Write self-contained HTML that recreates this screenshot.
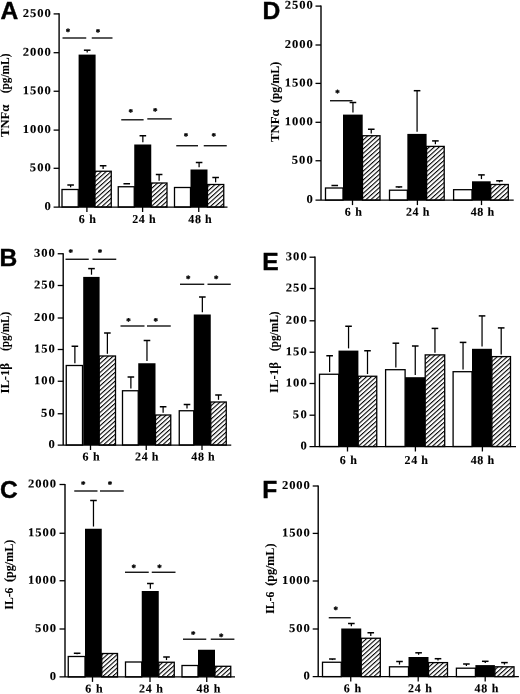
<!DOCTYPE html>
<html lang="en"><head><meta charset="utf-8"><title>Figure</title>
<style>
html,body{margin:0;padding:0;background:#fff;overflow:hidden}
svg{display:block}
.s{font-family:"Liberation Serif", serif;font-weight:bold;font-size:12px;fill:#000;stroke:#000;stroke-width:0.1px}
.st{font-family:"Liberation Serif", serif;font-weight:bold;font-size:9px;fill:#000;stroke:#000;stroke-width:0.35px}
.L{font-family:"Liberation Sans", sans-serif;font-weight:bold;font-size:24.6px;fill:#000;stroke:#000;stroke-width:0.4px}
.b{stroke:#000;stroke-width:1.3}
.a{stroke:#000;stroke-width:1.4;fill:none}
.x{stroke:#000;stroke-width:1.25;fill:none}
.k0{stroke:none}
.t{stroke:#000;stroke-width:1.3;fill:none}
.e{stroke:#000;stroke-width:1.5;fill:none}
.es{stroke:#000;stroke-width:1.25;fill:none}
.g{stroke:#000;stroke-width:1.3;fill:none}
</style></head><body>
<svg width="520" height="694" viewBox="0 0 520 694">
<defs>
<pattern id="h" patternUnits="userSpaceOnUse" width="3.3" height="3.3" patternTransform="rotate(-42)">
<rect width="3.3" height="3.3" fill="#fff"/><rect width="3.3" height="1.08" fill="#000"/>
</pattern>
</defs>
<rect width="520" height="694" fill="#fff"/>
<g>
<path d="M70.62 187.3V185" class="es"/>
<path d="M67.33 185H73.92" class="e"/>
<rect x="62" y="189.5" width="16.25" height="17.5" fill="#fff" class="b"/>
<path d="M87.2 52.4V50.2" class="es"/>
<path d="M83.9 50.2H90.5" class="e"/>
<rect x="78.6" y="54.6" width="17" height="152.4" fill="#000" class="k0"/>
<path d="M103.12 169.05V165.75" class="es"/>
<path d="M99.83 165.75H106.42" class="e"/>
<rect x="95" y="171.25" width="16.25" height="35.75" fill="url(#h)" class="b"/>
<path d="M123.45 183.75H130.05" class="e"/>
<rect x="118.25" y="186.75" width="16" height="20.25" fill="#fff" class="b"/>
<path d="M142.85 142.3V135.75" class="es"/>
<path d="M139.55 135.75H146.15" class="e"/>
<rect x="134.25" y="144.5" width="17" height="62.5" fill="#000" class="k0"/>
<path d="M159.12 180.8V174.5" class="es"/>
<path d="M155.82 174.5H162.43" class="e"/>
<rect x="151.25" y="183" width="15.75" height="24" fill="url(#h)" class="b"/>
<rect x="174.5" y="187.5" width="16" height="19.5" fill="#fff" class="b"/>
<path d="M199.1 167.3V162.5" class="es"/>
<path d="M195.8 162.5H202.4" class="e"/>
<rect x="190.5" y="169.5" width="17" height="37.5" fill="#000" class="k0"/>
<path d="M215.62 182.3V177.5" class="es"/>
<path d="M212.32 177.5H218.93" class="e"/>
<rect x="207.5" y="184.5" width="16.25" height="22.5" fill="url(#h)" class="b"/>
<path d="M59.1 13.3V207" class="a"/>
<path d="M53.6 207H227.5" class="x"/>
<path d="M53.6 13.9H59.1" class="t"/>
<text transform="translate(50.8,16.9) rotate(0.03) scale(1.05,1)" text-anchor="end" textLength="26.67" lengthAdjust="spacing" class="s">2500</text>
<path d="M53.6 52.7H59.1" class="t"/>
<text transform="translate(50.8,55.7) rotate(0.03) scale(1.05,1)" text-anchor="end" textLength="26.67" lengthAdjust="spacing" class="s">2000</text>
<path d="M53.6 91.25H59.1" class="t"/>
<text transform="translate(50.8,94.25) rotate(0.03) scale(1.05,1)" text-anchor="end" textLength="26.67" lengthAdjust="spacing" class="s">1500</text>
<path d="M53.6 130.1H59.1" class="t"/>
<text transform="translate(50.8,133.1) rotate(0.03) scale(1.05,1)" text-anchor="end" textLength="26.67" lengthAdjust="spacing" class="s">1000</text>
<path d="M53.6 168.3H59.1" class="t"/>
<text transform="translate(50.8,171.3) rotate(0.03) scale(1.05,1)" text-anchor="end" textLength="20" lengthAdjust="spacing" class="s">500</text>
<text transform="translate(50.8,210) rotate(0.03) scale(1.05,1)" text-anchor="end" textLength="6.67" lengthAdjust="spacing" class="s">0</text>
<path d="M86.9 207V212" class="t"/>
<text transform="translate(87.4,223) rotate(0.03)" text-anchor="middle" textLength="17.2" lengthAdjust="spacing" class="s">6 h</text>
<path d="M142.6 207V212" class="t"/>
<text transform="translate(143.9,223) rotate(0.03)" text-anchor="middle" textLength="23.4" lengthAdjust="spacing" class="s">24 h</text>
<path d="M198.75 207V212" class="t"/>
<text transform="translate(200,223) rotate(0.03)" text-anchor="middle" textLength="23.4" lengthAdjust="spacing" class="s">48 h</text>
<path d="M62.5 38H86.25" class="g"/>
<path d="M91.75 38H112.5" class="g"/>
<path d="M121.25 119.8H143.6" class="g"/>
<path d="M147.3 118.9H171.8" class="g"/>
<path d="M176.25 145.75H198" class="g"/>
<path d="M203.75 145.75H226.75" class="g"/>
<text transform="translate(68,34.6) rotate(0.03)" text-anchor="middle" class="st">*</text>
<text transform="translate(98,35.1) rotate(0.03)" text-anchor="middle" class="st">*</text>
<text transform="translate(130.7,115.1) rotate(0.03)" text-anchor="middle" class="st">*</text>
<text transform="translate(155.25,114) rotate(0.03)" text-anchor="middle" class="st">*</text>
<text transform="translate(186,139.1) rotate(0.03)" text-anchor="middle" class="st">*</text>
<text transform="translate(213.75,139.1) rotate(0.03)" text-anchor="middle" class="st">*</text>
<text x="0.5" y="18.7" class="L">A</text>
<text transform="translate(9.2,120.9) rotate(-90)" text-anchor="middle" textLength="32.2" lengthAdjust="spacingAndGlyphs" class="s">TNFα</text>
<text transform="translate(9.2,73.45) rotate(-90)" text-anchor="middle" textLength="39.7" lengthAdjust="spacingAndGlyphs" class="s">(pg/mL)</text>
</g>
<g>
<path d="M74.88 363.3V346.25" class="es"/>
<path d="M71.58 346.25H78.17" class="e"/>
<rect x="66.25" y="365.5" width="16.25" height="79.5" fill="#fff" class="b"/>
<path d="M91.5 274.7V268.6" class="es"/>
<path d="M88.2 268.6H94.8" class="e"/>
<rect x="83.2" y="276.9" width="16.4" height="168.1" fill="#000" class="k0"/>
<path d="M107.38 353.8V333" class="es"/>
<path d="M104.08 333H110.67" class="e"/>
<rect x="99.25" y="356" width="16.25" height="89" fill="url(#h)" class="b"/>
<path d="M130.88 388.55V377" class="es"/>
<path d="M127.58 377H134.18" class="e"/>
<rect x="122.5" y="390.75" width="15.75" height="54.25" fill="#fff" class="b"/>
<path d="M146.97 361.05V340.5" class="es"/>
<path d="M143.67 340.5H150.28" class="e"/>
<rect x="138.25" y="363.25" width="17.25" height="81.75" fill="#000" class="k0"/>
<path d="M163.12 412.8V406.75" class="es"/>
<path d="M159.82 406.75H166.43" class="e"/>
<rect x="155.5" y="415" width="15.25" height="30" fill="url(#h)" class="b"/>
<path d="M187 408.55V404.5" class="es"/>
<path d="M183.7 404.5H190.3" class="e"/>
<rect x="179.25" y="410.75" width="14.5" height="34.25" fill="#fff" class="b"/>
<path d="M202.35 312.3V297" class="es"/>
<path d="M199.05 297H205.65" class="e"/>
<rect x="193.75" y="314.5" width="17" height="130.5" fill="#000" class="k0"/>
<path d="M218.5 399.8V395" class="es"/>
<path d="M215.2 395H221.8" class="e"/>
<rect x="210.75" y="402" width="15.5" height="43" fill="url(#h)" class="b"/>
<path d="M63.2 253.15V445" class="a"/>
<path d="M57.7 445H231.25" class="x"/>
<path d="M57.7 253.75H63.2" class="t"/>
<text transform="translate(54.9,256.75) rotate(0.03) scale(1.05,1)" text-anchor="end" textLength="20" lengthAdjust="spacing" class="s">300</text>
<path d="M57.7 285.5H63.2" class="t"/>
<text transform="translate(54.9,288.5) rotate(0.03) scale(1.05,1)" text-anchor="end" textLength="20" lengthAdjust="spacing" class="s">250</text>
<path d="M57.7 318H63.2" class="t"/>
<text transform="translate(54.9,321) rotate(0.03) scale(1.05,1)" text-anchor="end" textLength="20" lengthAdjust="spacing" class="s">200</text>
<path d="M57.7 349.5H63.2" class="t"/>
<text transform="translate(54.9,352.5) rotate(0.03) scale(1.05,1)" text-anchor="end" textLength="20" lengthAdjust="spacing" class="s">150</text>
<path d="M57.7 381.25H63.2" class="t"/>
<text transform="translate(54.9,384.25) rotate(0.03) scale(1.05,1)" text-anchor="end" textLength="20" lengthAdjust="spacing" class="s">100</text>
<path d="M57.7 413.75H63.2" class="t"/>
<text transform="translate(54.9,416.75) rotate(0.03) scale(1.05,1)" text-anchor="end" textLength="13.33" lengthAdjust="spacing" class="s">50</text>
<text transform="translate(54.9,448) rotate(0.03) scale(1.05,1)" text-anchor="end" textLength="6.67" lengthAdjust="spacing" class="s">0</text>
<path d="M90.5 445V450" class="t"/>
<text transform="translate(91,460.5) rotate(0.03)" text-anchor="middle" textLength="17.2" lengthAdjust="spacing" class="s">6 h</text>
<path d="M146.25 445V450" class="t"/>
<text transform="translate(146.75,460.5) rotate(0.03)" text-anchor="middle" textLength="23.4" lengthAdjust="spacing" class="s">24 h</text>
<path d="M202 445V450" class="t"/>
<text transform="translate(203,460.5) rotate(0.03)" text-anchor="middle" textLength="23.4" lengthAdjust="spacing" class="s">48 h</text>
<path d="M65.5 259.25H88.75" class="g"/>
<path d="M92.5 259.25H116.25" class="g"/>
<path d="M120.5 326H144.5" class="g"/>
<path d="M147 326H170.75" class="g"/>
<path d="M180 284.25H204.25" class="g"/>
<path d="M207.5 284.25H230.75" class="g"/>
<text transform="translate(70.75,255.35) rotate(0.03)" text-anchor="middle" class="st">*</text>
<text transform="translate(100,255.35) rotate(0.03)" text-anchor="middle" class="st">*</text>
<text transform="translate(128.5,323.9) rotate(0.03)" text-anchor="middle" class="st">*</text>
<text transform="translate(155.85,323.9) rotate(0.03)" text-anchor="middle" class="st">*</text>
<text transform="translate(188.25,281.6) rotate(0.03)" text-anchor="middle" class="st">*</text>
<text transform="translate(216.25,281.6) rotate(0.03)" text-anchor="middle" class="st">*</text>
<text x="-0.4" y="265.6" class="L">B</text>
<text transform="translate(9.3,378.35) rotate(-90)" text-anchor="middle" textLength="30.3" lengthAdjust="spacingAndGlyphs" class="s">IL-1β</text>
<text transform="translate(9.3,331.3) rotate(-90)" text-anchor="middle" textLength="39.2" lengthAdjust="spacingAndGlyphs" class="s">(pg/mL)</text>
</g>
<g>
<path d="M77.12 654.3V653.25" class="es"/>
<path d="M73.83 653.25H80.42" class="e"/>
<rect x="68.25" y="656.5" width="16.75" height="20.4" fill="#fff" class="b"/>
<path d="M93.47 526.55V500.5" class="es"/>
<path d="M90.17 500.5H96.77" class="e"/>
<rect x="85" y="528.75" width="16.75" height="148.15" fill="#000" class="k0"/>
<rect x="101.75" y="653.5" width="15.75" height="23.4" fill="url(#h)" class="b"/>
<rect x="125.5" y="662" width="16.25" height="14.9" fill="#fff" class="b"/>
<path d="M150.35 588.8V583.5" class="es"/>
<path d="M147.05 583.5H153.65" class="e"/>
<rect x="141.75" y="591" width="17" height="85.9" fill="#000" class="k0"/>
<path d="M166.5 660.05V657" class="es"/>
<path d="M163.2 657H169.8" class="e"/>
<rect x="158.75" y="662.25" width="15.5" height="14.65" fill="url(#h)" class="b"/>
<rect x="182" y="665.5" width="16" height="11.4" fill="#fff" class="b"/>
<rect x="198" y="649.75" width="17" height="27.15" fill="#000" class="k0"/>
<rect x="215" y="666.3" width="15.75" height="10.6" fill="url(#h)" class="b"/>
<path d="M65 483.9V676.9" class="a"/>
<path d="M59.5 676.9H235" class="x"/>
<path d="M59.5 484.5H65" class="t"/>
<text transform="translate(56.1,487.5) rotate(0.03) scale(1.05,1)" text-anchor="end" textLength="26.67" lengthAdjust="spacing" class="s">2000</text>
<path d="M59.5 533.25H65" class="t"/>
<text transform="translate(56.1,536.25) rotate(0.03) scale(1.05,1)" text-anchor="end" textLength="26.67" lengthAdjust="spacing" class="s">1500</text>
<path d="M59.5 580.75H65" class="t"/>
<text transform="translate(56.1,583.75) rotate(0.03) scale(1.05,1)" text-anchor="end" textLength="26.67" lengthAdjust="spacing" class="s">1000</text>
<path d="M59.5 629H65" class="t"/>
<text transform="translate(56.1,632) rotate(0.03) scale(1.05,1)" text-anchor="end" textLength="20" lengthAdjust="spacing" class="s">500</text>
<text transform="translate(56.1,679.9) rotate(0.03) scale(1.05,1)" text-anchor="end" textLength="6.67" lengthAdjust="spacing" class="s">0</text>
<path d="M92.5 676.9V681.9" class="t"/>
<text transform="translate(93.9,692.6) rotate(0.03)" text-anchor="middle" textLength="17.54" lengthAdjust="spacing" class="s">6 h</text>
<path d="M150 676.9V681.9" class="t"/>
<text transform="translate(151,692.6) rotate(0.03)" text-anchor="middle" textLength="23.87" lengthAdjust="spacing" class="s">24 h</text>
<path d="M206.75 676.9V681.9" class="t"/>
<text transform="translate(208.4,692.6) rotate(0.03)" text-anchor="middle" textLength="23.87" lengthAdjust="spacing" class="s">48 h</text>
<path d="M74.25 491H97.5" class="g"/>
<path d="M100 491H123.75" class="g"/>
<path d="M125 572.25H148.75" class="g"/>
<path d="M151.75 572.25H175.5" class="g"/>
<path d="M183 639.2H206.25" class="g"/>
<path d="M210.75 639.2H234.4" class="g"/>
<text transform="translate(83.25,487.35) rotate(0.03)" text-anchor="middle" class="st">*</text>
<text transform="translate(110,487.35) rotate(0.03)" text-anchor="middle" class="st">*</text>
<text transform="translate(133.75,570.6) rotate(0.03)" text-anchor="middle" class="st">*</text>
<text transform="translate(159.5,570.6) rotate(0.03)" text-anchor="middle" class="st">*</text>
<text transform="translate(193.2,637.3) rotate(0.03)" text-anchor="middle" class="st">*</text>
<text transform="translate(221.25,639.4) rotate(0.03)" text-anchor="middle" class="st">*</text>
<text x="0" y="497.9" class="L">C</text>
<text transform="translate(13.25,598.6) rotate(-90)" text-anchor="middle" textLength="21.6" lengthAdjust="spacingAndGlyphs" class="s">IL-6</text>
<text transform="translate(13.25,560.85) rotate(-90)" text-anchor="middle" textLength="42.3" lengthAdjust="spacingAndGlyphs" class="s">(pg/mL)</text>
</g>
<g>
<path d="M331.45 185.5H338.05" class="e"/>
<rect x="325.5" y="188" width="17.5" height="12.1" fill="#fff" class="b"/>
<path d="M352.95 112.4V102.5" class="es"/>
<path d="M349.65 102.5H356.25" class="e"/>
<rect x="343" y="114.6" width="19.7" height="85.5" fill="#000" class="k0"/>
<path d="M371.25 133.55V129.25" class="es"/>
<path d="M367.95 129.25H374.55" class="e"/>
<rect x="362.5" y="135.75" width="17.5" height="64.35" fill="url(#h)" class="b"/>
<path d="M398.93 188V186.9" class="es"/>
<path d="M395.62 186.9H402.23" class="e"/>
<rect x="389.5" y="190.2" width="17.85" height="9.9" fill="#fff" class="b"/>
<path d="M417.08 131.7V90.7" class="es"/>
<path d="M413.78 90.7H420.38" class="e"/>
<rect x="407.35" y="133.9" width="19.25" height="66.2" fill="#000" class="k0"/>
<path d="M435.4 144.2V140.9" class="es"/>
<path d="M432.1 140.9H438.7" class="e"/>
<rect x="426.6" y="146.4" width="17.6" height="53.7" fill="url(#h)" class="b"/>
<rect x="453.6" y="189.7" width="18.4" height="10.4" fill="#fff" class="b"/>
<path d="M481.45 179.1V174.9" class="es"/>
<path d="M478.15 174.9H484.75" class="e"/>
<rect x="472" y="181.3" width="18.7" height="18.8" fill="#000" class="k0"/>
<path d="M499.5 182.3V180.8" class="es"/>
<path d="M496.2 180.8H502.8" class="e"/>
<rect x="490.7" y="184.5" width="17.6" height="15.6" fill="url(#h)" class="b"/>
<path d="M321 5.5V200.1" class="a"/>
<path d="M315.5 200.1H513.7" class="x"/>
<path d="M315.5 6.1H321" class="t"/>
<text transform="translate(312.7,8.7) rotate(0.03) scale(1.05,1)" text-anchor="end" textLength="26.67" lengthAdjust="spacing" class="s">2500</text>
<path d="M315.5 45H321" class="t"/>
<text transform="translate(312.7,48) rotate(0.03) scale(1.05,1)" text-anchor="end" textLength="26.67" lengthAdjust="spacing" class="s">2000</text>
<path d="M315.5 83.4H321" class="t"/>
<text transform="translate(312.7,86.4) rotate(0.03) scale(1.05,1)" text-anchor="end" textLength="26.67" lengthAdjust="spacing" class="s">1500</text>
<path d="M315.5 122.3H321" class="t"/>
<text transform="translate(312.7,125.3) rotate(0.03) scale(1.05,1)" text-anchor="end" textLength="26.67" lengthAdjust="spacing" class="s">1000</text>
<path d="M315.5 160.75H321" class="t"/>
<text transform="translate(312.7,163.75) rotate(0.03) scale(1.05,1)" text-anchor="end" textLength="20" lengthAdjust="spacing" class="s">500</text>
<text transform="translate(312.7,203.1) rotate(0.03) scale(1.05,1)" text-anchor="end" textLength="6.67" lengthAdjust="spacing" class="s">0</text>
<path d="M352.5 200.1V205.1" class="t"/>
<text transform="translate(353.25,215.7) rotate(0.03)" text-anchor="middle" textLength="17.2" lengthAdjust="spacing" class="s">6 h</text>
<path d="M417.4 200.1V205.1" class="t"/>
<text transform="translate(417.7,215.7) rotate(0.03)" text-anchor="middle" textLength="23.4" lengthAdjust="spacing" class="s">24 h</text>
<path d="M481.5 200.1V205.1" class="t"/>
<text transform="translate(482.4,215.7) rotate(0.03)" text-anchor="middle" textLength="23.4" lengthAdjust="spacing" class="s">48 h</text>
<path d="M330 100.75H352.5" class="g"/>
<text transform="translate(337.5,95.85) rotate(0.03)" text-anchor="middle" class="st">*</text>
<text x="262.5" y="18.6" class="L">D</text>
<text transform="translate(279.35,125.65) rotate(-90)" text-anchor="middle" textLength="32.5" lengthAdjust="spacingAndGlyphs" class="s">TNFα</text>
<text transform="translate(279.35,82.5) rotate(-90)" text-anchor="middle" textLength="41.2" lengthAdjust="spacingAndGlyphs" class="s">(pg/mL)</text>
</g>
<g>
<path d="M329.62 372.05V355.75" class="es"/>
<path d="M326.32 355.75H332.93" class="e"/>
<rect x="319.5" y="374.25" width="19.25" height="72.25" fill="#fff" class="b"/>
<path d="M348.55 348.4V326.25" class="es"/>
<path d="M345.25 326.25H351.85" class="e"/>
<rect x="338.5" y="350.6" width="19.9" height="95.9" fill="#000" class="k0"/>
<path d="M367.5 374.05V350.75" class="es"/>
<path d="M364.2 350.75H370.8" class="e"/>
<rect x="358.25" y="376.25" width="18.5" height="70.25" fill="url(#h)" class="b"/>
<path d="M395.85 367.5V343.2" class="es"/>
<path d="M392.55 343.2H399.15" class="e"/>
<rect x="385.6" y="369.7" width="19.5" height="76.8" fill="#fff" class="b"/>
<path d="M415.25 375V346" class="es"/>
<path d="M411.95 346H418.55" class="e"/>
<rect x="405.1" y="377.2" width="20.1" height="69.3" fill="#000" class="k0"/>
<path d="M434.95 352.7V328.4" class="es"/>
<path d="M431.65 328.4H438.25" class="e"/>
<rect x="425.2" y="354.9" width="19.5" height="91.6" fill="url(#h)" class="b"/>
<path d="M463.05 369.5V342.4" class="es"/>
<path d="M459.75 342.4H466.35" class="e"/>
<rect x="453.1" y="371.7" width="18.9" height="74.8" fill="#fff" class="b"/>
<path d="M482.05 346.6V315.9" class="es"/>
<path d="M478.75 315.9H485.35" class="e"/>
<rect x="472" y="348.8" width="19.9" height="97.7" fill="#000" class="k0"/>
<path d="M501.2 354.4V327.9" class="es"/>
<path d="M497.9 327.9H504.5" class="e"/>
<rect x="491.9" y="356.6" width="18.6" height="89.9" fill="url(#h)" class="b"/>
<path d="M315 256.6V446.5" class="a"/>
<path d="M309.5 446.5H516" class="x"/>
<path d="M309.5 257.2H315" class="t"/>
<text transform="translate(306.7,260.2) rotate(0.03) scale(1.05,1)" text-anchor="end" textLength="20" lengthAdjust="spacing" class="s">300</text>
<path d="M309.5 288.5H315" class="t"/>
<text transform="translate(306.7,291.5) rotate(0.03) scale(1.05,1)" text-anchor="end" textLength="20" lengthAdjust="spacing" class="s">250</text>
<path d="M309.5 320.8H315" class="t"/>
<text transform="translate(306.7,323.8) rotate(0.03) scale(1.05,1)" text-anchor="end" textLength="20" lengthAdjust="spacing" class="s">200</text>
<path d="M309.5 352.2H315" class="t"/>
<text transform="translate(306.7,355.2) rotate(0.03) scale(1.05,1)" text-anchor="end" textLength="20" lengthAdjust="spacing" class="s">150</text>
<path d="M309.5 383.5H315" class="t"/>
<text transform="translate(306.7,386.5) rotate(0.03) scale(1.05,1)" text-anchor="end" textLength="20" lengthAdjust="spacing" class="s">100</text>
<path d="M309.5 415.2H315" class="t"/>
<text transform="translate(306.7,418.2) rotate(0.03) scale(1.05,1)" text-anchor="end" textLength="13.33" lengthAdjust="spacing" class="s">50</text>
<text transform="translate(306.7,449.5) rotate(0.03) scale(1.05,1)" text-anchor="end" textLength="6.67" lengthAdjust="spacing" class="s">0</text>
<path d="M347.5 446.5V451.5" class="t"/>
<text transform="translate(348.25,464.1) rotate(0.03)" text-anchor="middle" textLength="17.2" lengthAdjust="spacing" class="s">6 h</text>
<path d="M415.4 446.5V451.5" class="t"/>
<text transform="translate(416.3,464.1) rotate(0.03)" text-anchor="middle" textLength="23.4" lengthAdjust="spacing" class="s">24 h</text>
<path d="M482.4 446.5V451.5" class="t"/>
<text transform="translate(482.4,464.1) rotate(0.03)" text-anchor="middle" textLength="23.4" lengthAdjust="spacing" class="s">48 h</text>
<text x="262.3" y="269.6" class="L">E</text>
<text transform="translate(277.9,377.5) rotate(-90)" text-anchor="middle" textLength="31" lengthAdjust="spacingAndGlyphs" class="s">IL-1β</text>
<text transform="translate(277.9,331.35) rotate(-90)" text-anchor="middle" textLength="39.7" lengthAdjust="spacingAndGlyphs" class="s">(pg/mL)</text>
</g>
<g>
<path d="M332.38 660.05V659" class="es"/>
<path d="M329.07 659H335.68" class="e"/>
<rect x="322.5" y="662.25" width="18.75" height="14.35" fill="#fff" class="b"/>
<path d="M351.35 626.3V623.5" class="es"/>
<path d="M348.05 623.5H354.65" class="e"/>
<rect x="341.25" y="628.5" width="20" height="48.1" fill="#000" class="k0"/>
<path d="M370.77 636.05V632.75" class="es"/>
<path d="M367.47 632.75H374.07" class="e"/>
<rect x="361.25" y="638.25" width="19.05" height="38.35" fill="url(#h)" class="b"/>
<path d="M399.5 664.6V661.5" class="es"/>
<path d="M396.2 661.5H402.8" class="e"/>
<rect x="389.5" y="666.8" width="19" height="9.8" fill="#fff" class="b"/>
<path d="M418.6 654.8V652.8" class="es"/>
<path d="M415.3 652.8H421.9" class="e"/>
<rect x="408.5" y="657" width="20" height="19.6" fill="#000" class="k0"/>
<path d="M438 660.4V658.7" class="es"/>
<path d="M434.7 658.7H441.3" class="e"/>
<rect x="428.5" y="662.6" width="19" height="14" fill="url(#h)" class="b"/>
<path d="M466.4 666V664" class="es"/>
<path d="M463.1 664H469.7" class="e"/>
<rect x="456.4" y="668.2" width="19" height="8.4" fill="#fff" class="b"/>
<path d="M485.25 662.9V661.3" class="es"/>
<path d="M481.95 661.3H488.55" class="e"/>
<rect x="475.4" y="665.1" width="19.5" height="11.5" fill="#000" class="k0"/>
<path d="M504.45 664.6V662.6" class="es"/>
<path d="M501.15 662.6H507.75" class="e"/>
<rect x="494.9" y="666.8" width="19.1" height="9.8" fill="url(#h)" class="b"/>
<path d="M318.2 485.4V676.6" class="a"/>
<path d="M312.7 676.6H518.9" class="x"/>
<path d="M312.7 486H318.2" class="t"/>
<text transform="translate(309.9,489) rotate(0.03) scale(1.05,1)" text-anchor="end" textLength="26.67" lengthAdjust="spacing" class="s">2000</text>
<path d="M312.7 533.4H318.2" class="t"/>
<text transform="translate(309.9,536.4) rotate(0.03) scale(1.05,1)" text-anchor="end" textLength="26.67" lengthAdjust="spacing" class="s">1500</text>
<path d="M312.7 581H318.2" class="t"/>
<text transform="translate(309.9,584) rotate(0.03) scale(1.05,1)" text-anchor="end" textLength="26.67" lengthAdjust="spacing" class="s">1000</text>
<path d="M312.7 629H318.2" class="t"/>
<text transform="translate(309.9,632) rotate(0.03) scale(1.05,1)" text-anchor="end" textLength="20" lengthAdjust="spacing" class="s">500</text>
<text transform="translate(309.9,679.5) rotate(0.03) scale(1.05,1)" text-anchor="end" textLength="6.67" lengthAdjust="spacing" class="s">0</text>
<path d="M350.75 676.6V681.6" class="t"/>
<text transform="translate(352.4,692.2) rotate(0.03)" text-anchor="middle" textLength="17.54" lengthAdjust="spacing" class="s">6 h</text>
<path d="M418.2 676.6V681.6" class="t"/>
<text transform="translate(420,692.2) rotate(0.03)" text-anchor="middle" textLength="23.87" lengthAdjust="spacing" class="s">24 h</text>
<path d="M485.2 676.6V681.6" class="t"/>
<text transform="translate(486.4,692.2) rotate(0.03)" text-anchor="middle" textLength="23.87" lengthAdjust="spacing" class="s">48 h</text>
<path d="M328.75 617.75H350.75" class="g"/>
<text transform="translate(335.75,612.6) rotate(0.03)" text-anchor="middle" class="st">*</text>
<text x="262.3" y="498.4" class="L">F</text>
<text transform="translate(274,602.75) rotate(-90)" text-anchor="middle" textLength="22.1" lengthAdjust="spacingAndGlyphs" class="s">IL-6</text>
<text transform="translate(274,564.7) rotate(-90)" text-anchor="middle" textLength="42.2" lengthAdjust="spacingAndGlyphs" class="s">(pg/mL)</text>
</g>
</svg>
</body></html>
